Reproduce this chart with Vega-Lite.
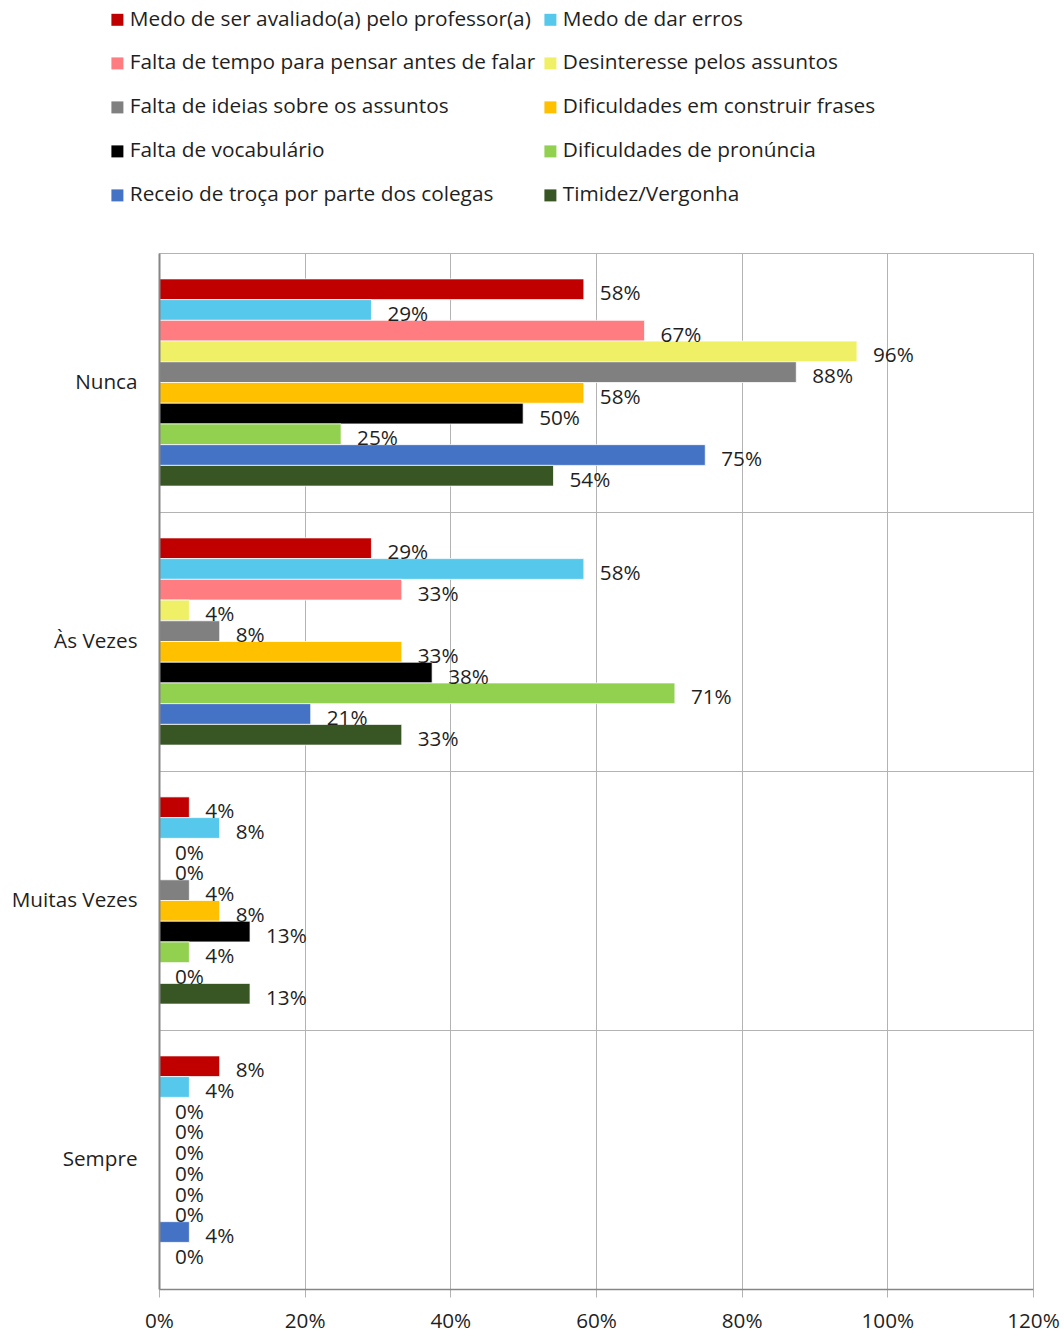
{
  "$schema": "https://vega.github.io/schema/vega-lite/v6.json",
  "width": 874,
  "height": 1036,
  "autosize": {"type": "none"},
  "padding": {"left": 159, "top": 253, "right": 31, "bottom": 47},
  "background": "white",
  "config": {"view": {"stroke": null}, "font": "Open Sans"},
  "data": {
    "values": [
      {"c": "Nunca", "s": "Medo de ser avaliado(a) pelo professor(a)", "v": 0.58333},
      {"c": "Nunca", "s": "Medo de dar erros", "v": 0.29167},
      {"c": "Nunca", "s": "Falta de tempo para pensar antes de falar", "v": 0.66667},
      {"c": "Nunca", "s": "Desinteresse pelos assuntos", "v": 0.95833},
      {"c": "Nunca", "s": "Falta de ideias sobre os assuntos", "v": 0.875},
      {"c": "Nunca", "s": "Dificuldades em construir frases", "v": 0.58333},
      {"c": "Nunca", "s": "Falta de vocabulário", "v": 0.5},
      {"c": "Nunca", "s": "Dificuldades de pronúncia", "v": 0.25},
      {"c": "Nunca", "s": "Receio de troça por parte dos colegas", "v": 0.75},
      {"c": "Nunca", "s": "Timidez/Vergonha", "v": 0.54167},
      {"c": "Às Vezes", "s": "Medo de ser avaliado(a) pelo professor(a)", "v": 0.29167},
      {"c": "Às Vezes", "s": "Medo de dar erros", "v": 0.58333},
      {"c": "Às Vezes", "s": "Falta de tempo para pensar antes de falar", "v": 0.33333},
      {"c": "Às Vezes", "s": "Desinteresse pelos assuntos", "v": 0.04167},
      {"c": "Às Vezes", "s": "Falta de ideias sobre os assuntos", "v": 0.08333},
      {"c": "Às Vezes", "s": "Dificuldades em construir frases", "v": 0.33333},
      {"c": "Às Vezes", "s": "Falta de vocabulário", "v": 0.375},
      {"c": "Às Vezes", "s": "Dificuldades de pronúncia", "v": 0.70833},
      {"c": "Às Vezes", "s": "Receio de troça por parte dos colegas", "v": 0.20833},
      {"c": "Às Vezes", "s": "Timidez/Vergonha", "v": 0.33333},
      {"c": "Muitas Vezes", "s": "Medo de ser avaliado(a) pelo professor(a)", "v": 0.04167},
      {"c": "Muitas Vezes", "s": "Medo de dar erros", "v": 0.08333},
      {"c": "Muitas Vezes", "s": "Falta de tempo para pensar antes de falar", "v": 0},
      {"c": "Muitas Vezes", "s": "Desinteresse pelos assuntos", "v": 0},
      {"c": "Muitas Vezes", "s": "Falta de ideias sobre os assuntos", "v": 0.04167},
      {"c": "Muitas Vezes", "s": "Dificuldades em construir frases", "v": 0.08333},
      {"c": "Muitas Vezes", "s": "Falta de vocabulário", "v": 0.125},
      {"c": "Muitas Vezes", "s": "Dificuldades de pronúncia", "v": 0.04167},
      {"c": "Muitas Vezes", "s": "Receio de troça por parte dos colegas", "v": 0},
      {"c": "Muitas Vezes", "s": "Timidez/Vergonha", "v": 0.125},
      {"c": "Sempre", "s": "Medo de ser avaliado(a) pelo professor(a)", "v": 0.08333},
      {"c": "Sempre", "s": "Medo de dar erros", "v": 0.04167},
      {"c": "Sempre", "s": "Falta de tempo para pensar antes de falar", "v": 0},
      {"c": "Sempre", "s": "Desinteresse pelos assuntos", "v": 0},
      {"c": "Sempre", "s": "Falta de ideias sobre os assuntos", "v": 0},
      {"c": "Sempre", "s": "Dificuldades em construir frases", "v": 0},
      {"c": "Sempre", "s": "Falta de vocabulário", "v": 0},
      {"c": "Sempre", "s": "Dificuldades de pronúncia", "v": 0},
      {"c": "Sempre", "s": "Receio de troça por parte dos colegas", "v": 0.04167},
      {"c": "Sempre", "s": "Timidez/Vergonha", "v": 0}
    ]
  },
  "encoding": {
    "y": {
      "field": "c",
      "type": "nominal",
      "sort": ["Nunca", "Às Vezes", "Muitas Vezes", "Sempre"],
      "scale": {"paddingInner": 0.2, "paddingOuter": 0.1},
      "axis": {
        "title": null,
        "bandPosition": -0.125,
        "ticks": false,
        "labelPadding": 22,
        "labelFontSize": 20.7,
        "labelFont": "Open Sans",
        "labelColor": "#1f1f1f",
        "grid": true,
        "gridColor": "#B3B3B3",
        "gridWidth": 1,
        "domainColor": "#868686",
        "domainWidth": 2,
        "zindex": 1
      }
    },
    "yOffset": {
      "field": "s",
      "type": "nominal",
      "sort": [
        "Medo de ser avaliado(a) pelo professor(a)",
        "Medo de dar erros",
        "Falta de tempo para pensar antes de falar",
        "Desinteresse pelos assuntos",
        "Falta de ideias sobre os assuntos",
        "Dificuldades em construir frases",
        "Falta de vocabulário",
        "Dificuldades de pronúncia",
        "Receio de troça por parte dos colegas",
        "Timidez/Vergonha"
      ],
      "scale": {"paddingInner": 0, "paddingOuter": 0}
    },
    "x": {
      "field": "v",
      "type": "quantitative",
      "scale": {"domain": [0, 1.2], "nice": false},
      "axis": {
        "title": null,
        "values": [0, 0.2, 0.4, 0.6, 0.8, 1, 1.2],
        "format": ".0%",
        "grid": true,
        "gridColor": "#B3B3B3",
        "gridWidth": 1,
        "tickColor": "#B3B3B3",
        "tickSize": 8,
        "domainColor": "#868686",
        "domainWidth": 1.5,
        "labelFontSize": 20.7,
        "labelFont": "Open Sans",
        "labelColor": "#1f1f1f",
        "labelPadding": 14,
        "labelFlush": false,
        "labelOverlap": false
      }
    }
  },
  "layer": [
    {
      "mark": {"type": "bar", "stroke": "white", "strokeWidth": 0.75},
      "encoding": {
        "color": {
          "field": "s",
          "type": "nominal",
          "title": null,
          "scale": {
            "domain": [
              "Medo de ser avaliado(a) pelo professor(a)",
              "Medo de dar erros",
              "Falta de tempo para pensar antes de falar",
              "Desinteresse pelos assuntos",
              "Falta de ideias sobre os assuntos",
              "Dificuldades em construir frases",
              "Falta de vocabulário",
              "Dificuldades de pronúncia",
              "Receio de troça por parte dos colegas",
              "Timidez/Vergonha"
            ],
            "range": ["#C00000", "#55C8EC", "#FF7C80", "#F0F066", "#808080", "#FFC000", "#000000", "#92D050", "#4472C4", "#375623"]
          },
          "legend": {
            "orient": "none",
            "legendX": -52,
            "legendY": -244,
            "direction": "horizontal",
            "columns": 2,
            "padding": 0,
            "symbolType": "square",
            "symbolSize": 144,
            "symbolStrokeWidth": 0,
            "labelFontSize": 20.8,
            "labelFont": "Open Sans",
            "labelColor": "#1f1f1f",
            "labelOffset": 2,
            "labelLimit": 600,
            "rowPadding": 22,
            "columnPadding": 4
          }
        }
      }
    },
    {
      "mark": {"type": "text", "align": "left", "baseline": "middle", "dx": 16, "dy": 5, "fontSize": 20.7, "font": "Open Sans", "color": "#1f1f1f"},
      "encoding": {
        "text": {"field": "v", "type": "quantitative", "format": ".0%"}
      }
    }
  ]
}
